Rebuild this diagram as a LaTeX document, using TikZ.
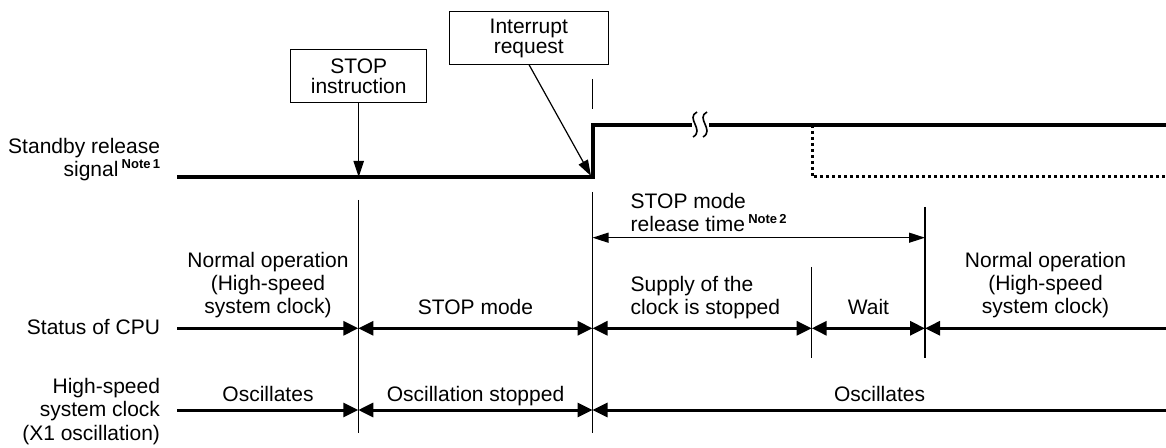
\documentclass[tikz,border=0pt]{standalone}
\usepackage{fontspec}
\setmainfont{Liberation Sans}
\usetikzlibrary{arrows.meta}
\newcommand\stackc[1]{\begin{tabular}[b]{@{}c@{}}#1\end{tabular}}
\newcommand\stackl[1]{\begin{tabular}[b]{@{}l@{}}#1\end{tabular}}
\newcommand\stackr[1]{\begin{tabular}[b]{@{}r@{}}#1\end{tabular}}
\newcommand\notemark[1]{\hspace{1.6pt}\smash{\raisebox{4.2pt}{\fontsize{6.5}{7}\selectfont\bfseries Note\,#1}}}
\begin{document}
\begin{tikzpicture}[x=0.5pt,y=-0.5pt,
  font=\fontsize{10.5}{11.65}\selectfont,
  every node/.style={inner sep=0pt, outer sep=0pt},
  thinln/.style={line width=0.6pt},
  sigln/.style={line width=1.6pt},
  phaseln/.style={line width=1.5pt},
  phaseboth/.style={{Triangle[length=7.5pt,width=7pt]}-{Triangle[length=7.5pt,width=7pt]}},
  phaseend/.style={-{Triangle[length=7.5pt,width=7pt]}},
  phasestart/.style={{Triangle[length=7.5pt,width=7pt]}-},
  thinboth/.style={{Triangle[length=8pt,width=5pt]}-{Triangle[length=8pt,width=5pt]}},
  thinend/.style={-{Triangle[length=8pt,width=5.2pt]}},
  boxnode/.style={draw, thinln, align=center, font=\fontsize{10.5}{10}\selectfont}
]
\useasboundingbox (0,0) rectangle (1166,448);

% ---- standby release signal ----
\coordinate (sigL) at (177,177);
\coordinate (rise0) at (593,177);
\coordinate (rise1) at (593,125);
\coordinate (brkA) at (692,125);
\coordinate (brkB) at (709,125);
\coordinate (sigR) at (1166,125);
\coordinate (dash0) at (812,125);
\coordinate (dash1) at (812,177);
\coordinate (dashR) at (1166,177);
\draw[sigln] (sigL) -- (rise0) -- (rise1) -- (brkA);
\draw[sigln] (brkB) -- (sigR);
\draw[line width=0.8pt] (697,112) .. controls (685,118) and (705,130) .. (693,137);
\draw[line width=0.8pt] (707,112) .. controls (695,118) and (715,130) .. (703,137);
\draw[line width=1.5pt, dash pattern=on 1.6pt off 1.4pt] (dash0) -- (dash1) -- (dashR);

\node[anchor=base east] (lblSig) at (160,177) {\stackr{Standby release\\signal\notemark{1}}};

% ---- boxes ----
\node[boxnode, minimum width=68pt, minimum height=26.5pt] (stopbox) at (358.7,75.8) {STOP\\instruction};
\node[boxnode, minimum width=79.5pt, minimum height=26.3pt] (intbox) at (528.8,38) {Interrupt\\request};
\draw[thinln, thinend] (stopbox.south) -- (stopbox.south |- sigL);
\coordinate (intTip) at (591,176);
\draw[thinln, thinend] (intbox.south) -- (intTip);

% ---- vertical markers ----
\coordinate (vS1) at (358.3,200); \coordinate (vS2) at (358.3,433);
\coordinate (vR0) at (592.5,79);  \coordinate (vR1) at (592.5,109);
\coordinate (vR2) at (592.5,192); \coordinate (vR3) at (592.5,433);
\coordinate (vW1) at (811.7,267); \coordinate (vW2) at (811.7,358);
\coordinate (vN1) at (925,207);   \coordinate (vN2) at (925,358);
\draw[thinln] (vS1) -- (vS2);
\draw[thinln] (vR0) -- (vR1);
\draw[thinln] (vR2) -- (vR3);
\draw[thinln] (vW1) -- (vW2);
\draw[thinln] (vN1) -- (vN2);

% ---- release time ----
\coordinate (r0) at (592.5,237.7);
\coordinate (r1) at (925,237.7);
\draw[thinln, thinboth] (r0) -- (r1);
\node[anchor=base west] (lblRel) at (630.7,231.7) {\stackl{STOP mode\\release time\notemark{2}}};

% ---- status of CPU ----
\coordinate (c0) at (177,328.3);
\coordinate (c1) at (358.3,328.3);
\coordinate (c2) at (592.5,328.3);
\coordinate (c3) at (811.7,328.3);
\coordinate (c4) at (925,328.3);
\coordinate (c5) at (1166,328.3);
\draw[phaseln, phaseend] (c0) -- (c1);
\draw[phaseln, phaseboth] (c1) -- (c2);
\draw[phaseln, phaseboth] (c2) -- (c3);
\draw[phaseln, phaseboth] (c3) -- (c4);
\draw[phaseln, phasestart] (c4) -- (c5);
\node[anchor=base east] (lblCPU) at (160,335) {Status of CPU};
\node[anchor=base] (cpuN1) at (268,314) {\stackc{Normal operation\\(High-speed\\system clock)}};
\node[anchor=base] (cpuStop) at (475.5,315) {STOP mode};
\node[anchor=base west] (cpuSup) at (630.7,315) {\stackl{Supply of the\\clock is stopped}};
\node[anchor=base] (cpuWait) at (868.4,315) {Wait};
\node[anchor=base] (cpuN2) at (1045.5,314) {\stackc{Normal operation\\(High-speed\\system clock)}};

% ---- high-speed system clock ----
\coordinate (o0) at (177,410);
\coordinate (o1) at (358.3,410);
\coordinate (o2) at (592.5,410);
\coordinate (o3) at (1166,410);
\draw[phaseln, phaseend] (o0) -- (o1);
\draw[phaseln, phaseboth] (o1) -- (o2);
\draw[phaseln, phasestart] (o2) -- (o3);
\node[anchor=base east] (lblOsc) at (160,440) {\stackr{High-speed\\system clock\\(X1 oscillation)}};
\node[anchor=base] (osc1) at (268,401.7) {Oscillates};
\node[anchor=base] (osc2) at (475.5,401.7) {Oscillation stopped};
\node[anchor=base] (osc3) at (879.5,401.7) {Oscillates};
\end{tikzpicture}
\end{document}
